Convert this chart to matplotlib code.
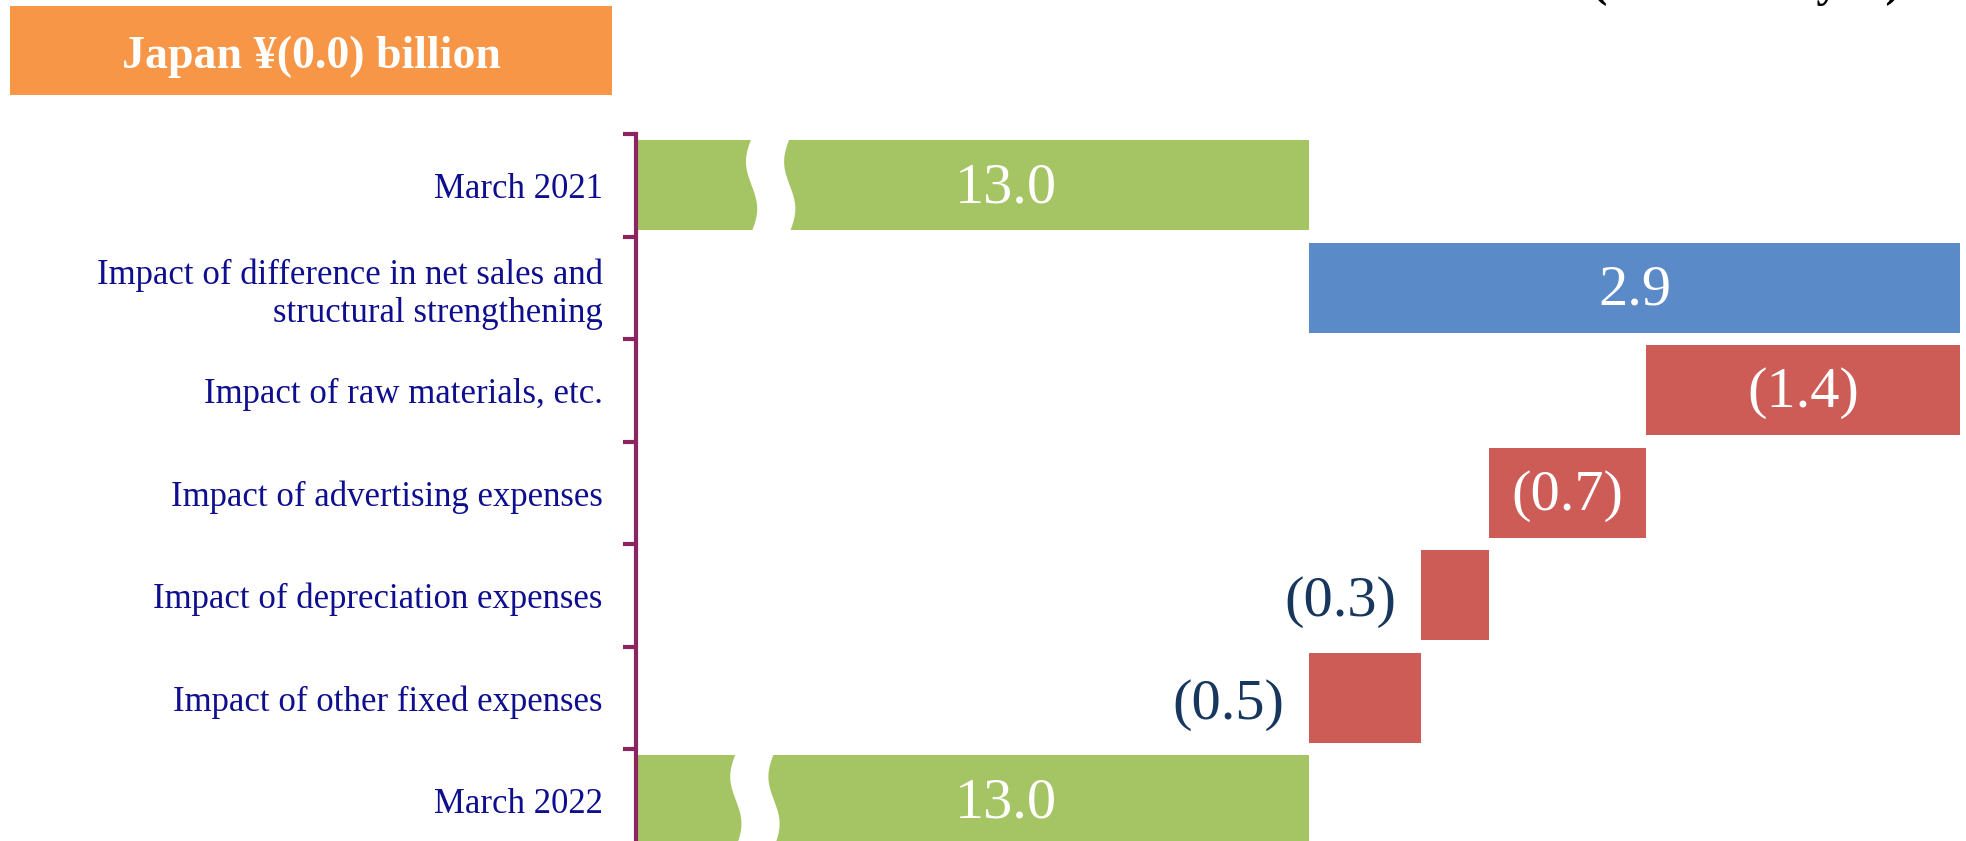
import numpy as np
import matplotlib
matplotlib.use("Agg")
import matplotlib.pyplot as plt
from matplotlib.patches import Rectangle, Polygon

# ---- data -------------------------------------------------------------
categories = [
    "March 2021",
    "Impact of difference in net sales and\nstructural strengthening",
    "Impact of raw materials, etc.",
    "Impact of advertising expenses",
    "Impact of depreciation expenses",
    "Impact of other fixed expenses",
    "March 2022",
]
values = [13.0, 2.9, -1.4, -0.7, -0.3, -0.5, 13.0]
value_labels = ["13.0", "2.9", "(1.4)", "(0.7)", "(0.3)", "(0.5)", "13.0"]
kinds = ["total", "delta", "delta", "delta", "delta", "delta", "total"]
axis_start = 10.0          # the value axis is broken: it starts here
title_text = "Japan ¥(0.0) billion"
unit_text = "(Billions of yen)"

# ---- style ------------------------------------------------------------
GREEN = "#A5C464"
BLUE = "#5B8AC8"
RED = "#CD5B56"
ORANGE = "#F79646"
AXIS = "#8B2560"
NAVY = "#0E0E8E"
DARK = "#17375E"
SERIF = ["Liberation Serif", "DejaVu Serif"]

plt.rcParams["font.family"] = SERIF

W, H, DPI = 1966, 841, 100
fig = plt.figure(figsize=(W / DPI, H / DPI), dpi=DPI)
ax = fig.add_axes([636 / W, -10.5 / H, (1960 - 636) / W, 717.5 / H])

# ---- waterfall geometry ------------------------------------------------
lefts, widths, colors = [], [], []
running = 0.0
for v, k in zip(values, kinds):
    if k == "total":
        lefts.append(axis_start)
        widths.append(v - axis_start)
        colors.append(GREEN)
        running = v
    else:
        if v >= 0:
            lefts.append(running)
            widths.append(v)
            colors.append(BLUE)
        else:
            lefts.append(running + v)
            widths.append(-v)
            colors.append(RED)
        running += v

ypos = np.arange(len(categories))
bar_h = 0.88
ax.barh(ypos, widths, left=lefts, height=bar_h, color=colors, zorder=2)

# wavy break through the long total bars
break_centers = {0: 10.6, 6: 10.53}
gap = 0.17
amp = 0.025
for i, c in break_centers.items():
    t = np.linspace(0, 1, 60)
    yy = (i - bar_h / 2 - 0.02) + t * (bar_h + 0.04)
    off = -amp * np.sin(2 * np.pi * t)
    left_edge = c - gap / 2 + off
    right_edge = c + gap / 2 + off
    pts = np.vstack([np.column_stack([left_edge, yy]),
                     np.column_stack([right_edge[::-1], yy[::-1]])])
    ax.add_patch(Polygon(pts, closed=True, facecolor="white",
                         edgecolor="none", zorder=3))

# value labels
for i, (l, w, lab, k) in enumerate(zip(lefts, widths, value_labels, kinds)):
    if k == "total":
        ax.text(l + w * 0.55, i + 0.03, lab, ha="center", va="center",
                color="white", fontsize=42, zorder=4)
    elif w >= 0.6:
        ax.text(l + w / 2, i + 0.03, lab, ha="center", va="center",
                color="white", fontsize=42, zorder=4)
    else:
        ax.text(l - 0.11, i + 0.07, lab, ha="right", va="center",
                color=DARK, fontsize=42, zorder=4)

# ---- axes --------------------------------------------------------------
ax.set_xlim(axis_start, 15.9)
ax.set_ylim(len(categories) - 0.5, -0.5)
for s in ["top", "right", "bottom"]:
    ax.spines[s].set_visible(False)
ax.spines["left"].set_color(AXIS)
ax.spines["left"].set_linewidth(3)
ax.xaxis.set_visible(False)

ax.set_yticks(np.arange(len(categories) + 1) - 0.5)
ax.set_yticklabels([])
ax.tick_params(axis="y", which="major", length=9.5, width=3, color=AXIS)
ax.set_yticks(ypos, minor=True)
ax.set_yticklabels(categories, minor=True, fontsize=25, color=NAVY)
ax.tick_params(axis="y", which="minor", length=0, pad=24)

# ---- header -------------------------------------------------------------
fig.patches.append(Rectangle((10 / W, 1 - 95 / H), 602 / W, 89 / H,
                             transform=fig.transFigure, facecolor=ORANGE,
                             edgecolor="none"))
fig.text(311 / W, 1 - 57 / H, title_text, ha="center", va="center",
         color="white", fontsize=33, fontweight="bold")
fig.text(1746 / W, 1 + 4 / H, unit_text, ha="center", va="baseline",
         color="black", fontsize=33, fontweight="bold")

fig.savefig("out.png", dpi=DPI, facecolor="white")
